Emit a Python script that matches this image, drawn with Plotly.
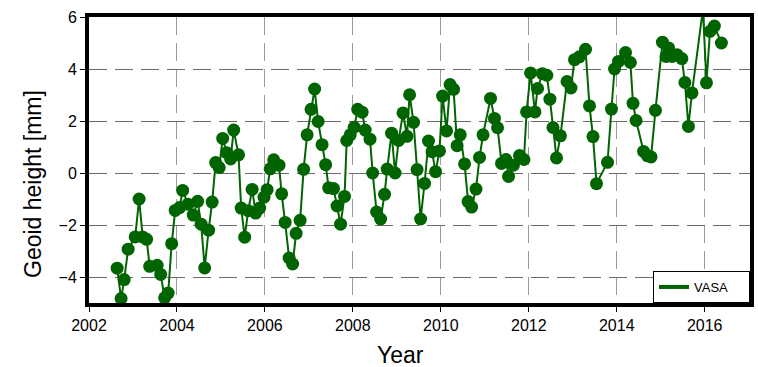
import plotly.graph_objects as go

# Decimal year of each monthly solution
years = [
    2002.64, 2002.73, 2002.80, 2002.89, 2003.05, 2003.14, 2003.22, 2003.31, 2003.38, 2003.55,
    2003.63, 2003.72, 2003.80, 2003.88, 2003.96, 2004.06, 2004.13, 2004.25, 2004.37, 2004.47,
    2004.55, 2004.63, 2004.72, 2004.80, 2004.88, 2004.96, 2005.04, 2005.13, 2005.22, 2005.29,
    2005.40, 2005.46, 2005.54, 2005.62, 2005.71, 2005.79, 2005.88, 2005.98, 2006.05, 2006.12,
    2006.20, 2006.32, 2006.38, 2006.46, 2006.55, 2006.63, 2006.71, 2006.80, 2006.88, 2006.96,
    2007.05, 2007.13, 2007.21, 2007.30, 2007.38, 2007.45, 2007.56, 2007.64, 2007.72, 2007.81,
    2007.86, 2007.94, 2008.03, 2008.11, 2008.21, 2008.28, 2008.39, 2008.45, 2008.54, 2008.63,
    2008.72, 2008.78, 2008.88, 2008.96, 2009.04, 2009.14, 2009.23, 2009.29, 2009.38, 2009.46,
    2009.54, 2009.63, 2009.72, 2009.80, 2009.88, 2009.97, 2010.04, 2010.13, 2010.21, 2010.29,
    2010.37, 2010.44, 2010.54, 2010.62, 2010.70, 2010.80, 2010.88, 2010.96, 2011.13, 2011.22,
    2011.29, 2011.38, 2011.48, 2011.54, 2011.65, 2011.79, 2011.89, 2011.95, 2012.04, 2012.14,
    2012.20, 2012.31, 2012.41, 2012.48, 2012.55, 2012.63, 2012.72, 2012.87, 2012.96, 2013.04,
    2013.15, 2013.29, 2013.38, 2013.46, 2013.54, 2013.79, 2013.88, 2013.95, 2014.04, 2014.20,
    2014.31, 2014.37, 2014.44, 2014.61, 2014.70, 2014.78, 2014.88, 2015.04, 2015.12, 2015.18,
    2015.26, 2015.37, 2015.48, 2015.55, 2015.63, 2015.71, 2015.96, 2016.04, 2016.12, 2016.22,
    2016.38,
]

# Geoid height anomaly [mm]
geoid_mm = [
    -3.66, -4.83, -4.10, -2.93, -2.46, -1.00, -2.46, -2.55, -3.59, -3.55,
    -3.90, -4.80, -4.62, -2.72, -1.44, -1.33, -0.67, -1.20, -1.62, -1.09,
    -1.97, -3.65, -2.20, -1.12, 0.40, 0.21, 1.33, 0.78, 0.54, 1.65,
    0.70, -1.35, -2.47, -1.45, -0.63, -1.54, -1.35, -0.93, -0.64, 0.16,
    0.51, 0.30, -0.80, -1.90, -3.27, -3.50, -2.32, -1.82, 0.14, 1.47,
    2.45, 3.23, 1.98, 1.09, 0.32, -0.57, -0.60, -1.27, -1.97, -0.90,
    1.25, 1.47, 1.76, 2.45, 2.34, 1.65, 1.30, 0.00, -1.50, -1.77,
    -0.82, 0.15, 1.53, 0.00, 1.25, 2.31, 1.41, 3.01, 1.95, 0.13,
    -1.77, -0.40, 1.23, 0.82, 0.05, 0.85, 2.96, 1.62, 3.40, 3.22,
    1.05, 1.47, 0.35, -1.10, -1.31, -0.62, 0.60, 1.47, 2.87, 2.10,
    1.74, 0.37, 0.52, -0.13, 0.30, 0.67, 0.52, 2.35, 3.85, 2.35,
    3.25, 3.82, 3.76, 2.84, 1.75, 0.58, 1.43, 3.52, 3.27, 4.36,
    4.47, 4.76, 2.58, 1.40, -0.41, 0.41, 2.46, 4.00, 4.29, 4.63,
    4.25, 2.68, 2.02, 0.83, 0.66, 0.62, 2.41, 5.03, 4.48, 4.81,
    4.48, 4.55, 4.40, 3.48, 1.79, 3.08, 6.30, 3.47, 5.45, 5.65,
    5.00,
]

series_name = "VASA"
x_title = "Year"
y_title = "Geoid height [mm]"
x_ticks = [2002, 2004, 2006, 2008, 2010, 2012, 2014, 2016]
y_ticks = [-4, -2, 0, 2, 4, 6]

green = "#006400"
font_family = "Liberation Sans, Arial, Helvetica, sans-serif"

fig = go.Figure()
fig.add_trace(go.Scatter(
    x=years, y=geoid_mm, mode="lines+markers",
    line=dict(color=green, width=2),
    marker=dict(color=green, size=13),
    showlegend=False, name=series_name,
))
# legend entry (line only)
fig.add_trace(go.Scatter(
    x=[None], y=[None], mode="lines",
    line=dict(color=green, width=4),
    name=series_name, showlegend=True,
))

fig.update_layout(
    template="none",
    width=758, height=367,
    margin=dict(l=89, r=8, t=17, b=64, autoexpand=False),
    paper_bgcolor="white", plot_bgcolor="white",
    font=dict(family=font_family, color="black", size=16),
    legend=dict(
        x=1, y=0, xanchor="right", yanchor="bottom",
        orientation="h", entrywidth=50, entrywidthmode="pixels",
        bgcolor="white", bordercolor="black", borderwidth=1,
        font=dict(size=13, family=font_family),
        itemwidth=30, tracegroupgap=0,
    ),
    annotations=[
        dict(text=x_title, xref="paper", yref="paper", x=(400 - 89) / 661, y=-52 / 286,
             xanchor="center", yanchor="middle", showarrow=False,
             font=dict(size=23, family=font_family)),
        dict(text=y_title, xref="paper", yref="paper", x=-56 / 661, y=(303 - 184) / 286,
             xanchor="center", yanchor="middle", textangle=-90, showarrow=False,
             font=dict(size=23, family=font_family)),
    ],
)
fig.update_xaxes(
    automargin=False,
    range=[2002, 2017.03], tickvals=x_ticks,
    showline=True, linecolor="black", linewidth=4, mirror=True,
    ticks="outside", ticklen=5, tickwidth=1, tickcolor="black",
    showgrid=True, gridcolor="#9a9a9a", gridwidth=1, griddash="18px,8px",
    zeroline=False,
    tickfont=dict(size=16),
)
fig.update_yaxes(
    automargin=False,
    range=[-5, 6], tickvals=y_ticks,
    showline=True, linecolor="black", linewidth=4, mirror=True,
    ticks="outside", ticklen=5, tickwidth=1, tickcolor="black",
    showgrid=True, gridcolor="#6a6a6a", gridwidth=1, griddash="18px,8px",
    zeroline=False,
    tickfont=dict(size=16),
)

fig.write_html("out.html", config={"displayModeBar": False},
               post_script="document.body.style.margin='0';")
